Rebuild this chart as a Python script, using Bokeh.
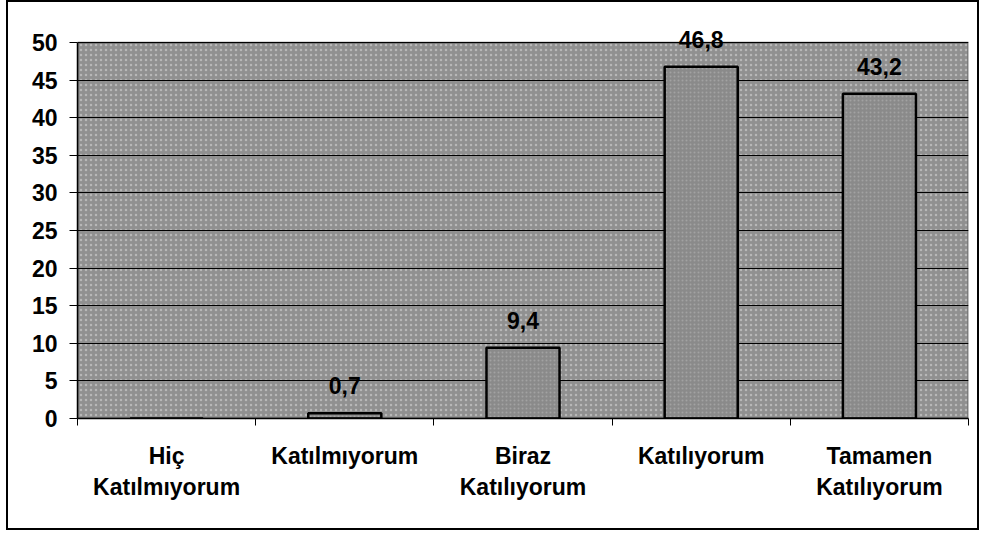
from bokeh.plotting import figure
from bokeh.models import Range1d, FixedTicker, ColumnDataSource, Label, BoxAnnotation
from bokeh.embed import file_html
from bokeh.resources import INLINE
import numpy as np

categories = ["Hiç\nKatılmıyorum", "Katılmıyorum", "Biraz\nKatılıyorum", "Katılıyorum", "Tamamen\nKatılıyorum"]
values = [0.0, 0.7, 9.4, 46.8, 43.2]
y_ticks = [0, 5, 10, 15, 20, 25, 30, 35, 40, 45, 50]

FONT = "Liberation Sans"
FS = "23px"

n = len(categories)
xs = np.arange(n) + 0.5
y_max = y_ticks[-1]
value_text = ["" if v == 0 else f"{v:.1f}".replace(".", ",") for v in values]
src = ColumnDataSource(dict(x=xs, top=values, lab=value_text))

p = figure(width=969, height=526, output_backend="svg", toolbar_location=None,
           x_range=Range1d(0, n), y_range=Range1d(0, y_max + 4))
p.styles = {"border": "2px solid black", "margin-left": "6px", "box-sizing": "content-box"}
p.min_border_left = 69
p.min_border_right = 13
p.min_border_top = 10
p.min_border_bottom = 114
p.background_fill_color = "white"
p.border_fill_color = "white"
p.outline_line_color = None

# plot-area background (0..50) with speckled texture
bg = BoxAnnotation(bottom=0, top=y_max, level="image", fill_color="#909090", fill_alpha=1,
                   line_color=None, hatch_pattern="dot", hatch_color="#e6e6e6",
                   hatch_alpha=0.45, hatch_scale=5, hatch_weight=1.5)
p.add_layout(bg)

p.vbar(x="x", top="top", bottom=0, width=0.41, source=src,
       fill_color="#8a8a8a", line_color="black", line_width=2.5,
       hatch_pattern="dot", hatch_color="#cfcfcf", hatch_alpha=0.35, hatch_scale=4)

frame_box = BoxAnnotation(bottom=0, top=y_max, level="overlay", fill_color=None,
                          fill_alpha=0, line_color="black", line_width=2)
p.add_layout(frame_box)

for x, t, lab in zip(xs, values, value_text):
    if lab:
        p.add_layout(Label(x=float(x), y=t, text=lab, text_align="center",
                           text_baseline="bottom", y_offset=19, text_font=FONT,
                           text_font_size=FS, text_font_style="bold", text_color="black"))

p.xgrid.grid_line_color = None
p.ygrid.grid_line_color = "black"
p.ygrid.grid_line_width = 1
p.ygrid.ticker = FixedTicker(ticks=y_ticks)

p.yaxis.ticker = FixedTicker(ticks=y_ticks)
p.yaxis.bounds = (0, y_max)
p.yaxis.axis_line_color = "black"
p.yaxis.axis_line_width = 1.5
p.yaxis.major_tick_out = 8
p.yaxis.major_tick_in = 0
p.yaxis.major_tick_line_color = "black"
p.yaxis.minor_tick_line_color = None
p.yaxis.major_label_standoff = 12
p.yaxis.major_label_text_font = FONT
p.yaxis.major_label_text_font_size = FS
p.yaxis.major_label_text_font_style = "bold"
p.yaxis.major_label_text_color = "black"

p.xaxis.ticker = FixedTicker(ticks=list(xs), minor_ticks=list(np.arange(n + 1)))
p.xaxis.major_label_overrides = {float(x): c for x, c in zip(xs, categories)}
p.xaxis.axis_line_color = "black"
p.xaxis.axis_line_width = 1.5
p.xaxis.major_tick_line_color = None
p.xaxis.minor_tick_line_color = "black"
p.xaxis.minor_tick_out = 7
p.xaxis.minor_tick_in = 0
p.xaxis.major_label_standoff = 17
p.xaxis.major_label_text_font = FONT
p.xaxis.major_label_text_font_size = FS
p.xaxis.major_label_text_font_style = "bold"
p.xaxis.major_label_text_color = "black"

open("out.html", "w").write(file_html(p, INLINE))
